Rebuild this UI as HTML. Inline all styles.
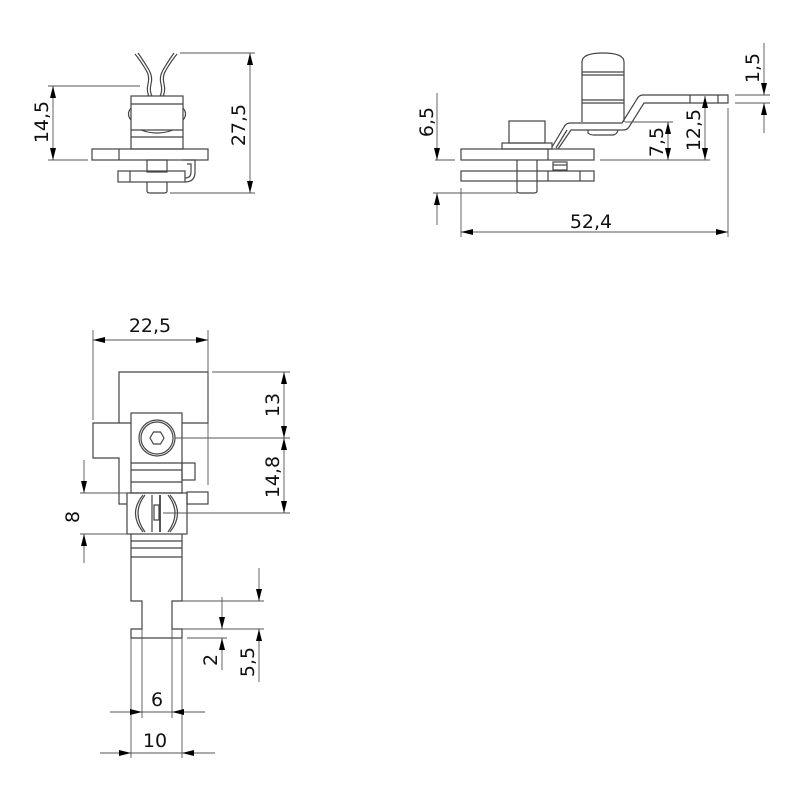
<!DOCTYPE html>
<html><head><style>
html,body{margin:0;padding:0;background:#fff;}
svg{display:block;}
text{font-family:"DejaVu Sans","Liberation Sans",sans-serif;font-size:19px;fill:#111;}
.p{fill:none;stroke:#444;stroke-width:1.2;}
.d{fill:none;stroke:#555;stroke-width:0.9;}
</style></head><body>
<svg width="800" height="800" viewBox="0 0 800 800">
<defs>
<marker id="a" viewBox="0 0 12 6" refX="12" refY="3" markerWidth="12" markerHeight="6" markerUnits="userSpaceOnUse" orient="auto"><path d="M0,0 L12,3 L0,6z" fill="#000"/></marker>
</defs>

<!-- VIEW 1 -->
<g class="p">
<path d="M135,54 Q140,60 146,70 Q150,76 148,84 Q146,92 150,98"/>
<path d="M138,53 Q143,60 149,70 Q153,77 151,84 Q149,92 153,98"/>
<path d="M177,54 Q172,60 166,70 Q162,76 164,84 Q166,92 162,98"/>
<path d="M174,53 Q169,60 163,70 Q159,77 161,84 Q163,92 159,98"/>
<rect x="131" y="96" width="52" height="53" fill="#fff"/>
<line x1="131" y1="104" x2="183" y2="104"/>
<line x1="131" y1="130" x2="183" y2="130"/>
<line x1="131" y1="137" x2="183" y2="137"/>
<path d="M141,130 Q157,136 173,130"/>
<path d="M131,108 Q126,114 131,120"/><path d="M183,108 Q188,114 183,120"/>
<rect x="92" y="149" width="116" height="11"/>
<line x1="119" y1="149" x2="119" y2="160"/>
<rect x="147" y="160" width="20" height="12"/>
<rect x="118" y="171" width="67" height="11"/>
<line x1="130" y1="171" x2="130" y2="182"/>
<path d="M147,182 L147,191 Q147,193 150,193 L164,193 Q167,193 167,191 L167,182"/>
<path d="M183,160 L195,160 L195,172 Q195,182 185,182"/>
<path d="M187,164 L191,164 L191,172 Q191,178 185,178"/>
</g>
<g class="d">
<line x1="48" y1="86" x2="140" y2="86"/>
<line x1="48" y1="160" x2="88" y2="160"/>
<line x1="53" y1="120" x2="53" y2="86" marker-end="url(#a)"/>
<line x1="53" y1="120" x2="53" y2="160" marker-end="url(#a)"/>
<line x1="180" y1="53" x2="255" y2="53"/>
<line x1="170" y1="193" x2="255" y2="193"/>
<line x1="250" y1="120" x2="250" y2="53" marker-end="url(#a)"/>
<line x1="250" y1="120" x2="250" y2="193" marker-end="url(#a)"/>
</g>
<text transform="translate(48,122) rotate(-90)" text-anchor="middle">14,5</text>
<text transform="translate(245,125) rotate(-90)" text-anchor="middle">27,5</text>

<!-- VIEW 2 -->
<g class="p">
<path d="M582,122 L582,62 Q582,53 603,53 Q624,53 624,62 L624,122"/>
<line x1="582" y1="72" x2="624" y2="72"/><line x1="582" y1="75" x2="624" y2="75"/>
<line x1="582" y1="100" x2="624" y2="100"/><line x1="582" y1="103" x2="624" y2="103"/>
<path d="M588,130 L588,133 Q590,135 594,135 L612,135 Q617,135 618,130"/>
<rect x="461" y="149" width="133" height="11"/>
<line x1="548" y1="149" x2="548" y2="160"/>
<rect x="461" y="171" width="133" height="10"/>
<line x1="548" y1="171" x2="548" y2="181"/><line x1="580" y1="171" x2="580" y2="181"/>
<rect x="502" y="143" width="50" height="6"/>
<rect x="509" y="121" width="36" height="22"/>
<path d="M517,160 L517,191 Q517,193 520,193 L534,193 Q537,193 537,191 L537,160"/>
<rect x="553" y="162" width="14" height="8"/>
<line x1="553" y1="165" x2="567" y2="165"/>
<path d="M552,147 L564,127 Q566,123 570,123 L622,123 L637,99 Q639,95 643,95 L728,95 L728,103 L644,103 L629,127 Q627,130 623,130 L571,130 L558,149"/>
<line x1="556" y1="148" x2="567" y2="130"/>
<line x1="690" y1="95" x2="690" y2="103"/><line x1="718" y1="95" x2="718" y2="103"/>
</g>
<g class="d">
<line x1="437" y1="93" x2="437" y2="160" marker-end="url(#a)"/>
<line x1="437" y1="225" x2="437" y2="193" marker-end="url(#a)"/>
<line x1="435" y1="160" x2="455" y2="160"/>
<line x1="433" y1="193" x2="517" y2="193"/>
<line x1="461" y1="188" x2="461" y2="237"/>
<line x1="728" y1="108" x2="728" y2="237"/>
<line x1="595" y1="232" x2="461" y2="232" marker-end="url(#a)"/>
<line x1="595" y1="232" x2="728" y2="232" marker-end="url(#a)"/>
<line x1="600" y1="160" x2="710" y2="160"/>
<line x1="625" y1="122" x2="673" y2="122"/>
<line x1="668" y1="140" x2="668" y2="122" marker-end="url(#a)"/>
<line x1="668" y1="140" x2="668" y2="160" marker-end="url(#a)"/>
<line x1="705" y1="130" x2="705" y2="96" marker-end="url(#a)"/>
<line x1="705" y1="130" x2="705" y2="160" marker-end="url(#a)"/>
<line x1="735" y1="95" x2="770" y2="95"/>
<line x1="735" y1="103" x2="770" y2="103"/>
<line x1="764" y1="43" x2="764" y2="95" marker-end="url(#a)"/>
<line x1="764" y1="133" x2="764" y2="103" marker-end="url(#a)"/>
</g>
<text transform="translate(433,122) rotate(-90)" text-anchor="middle">6,5</text>
<text x="591" y="228" text-anchor="middle">52,4</text>
<text transform="translate(663,142) rotate(-90)" text-anchor="middle">7,5</text>
<text transform="translate(700,130) rotate(-90)" text-anchor="middle">12,5</text>
<text transform="translate(759,68) rotate(-90)" text-anchor="middle">1,5</text>

<!-- VIEW 3 -->
<g class="p">
<path d="M131,423 L119,423 L93,423 L93,458 L119,458 L119,504 L127,504"/>
<path d="M119,423 L119,372 L208,372 L208,423 L182,423"/>
<rect x="131" y="413" width="51" height="80"/>
<circle cx="157" cy="438" r="18"/>
<circle cx="157" cy="438" r="16"/>
<polygon points="164,438 160.5,444 153.5,444 150,438 153.5,432 160.5,432"/>
<line x1="131" y1="463" x2="182" y2="463"/>
<line x1="131" y1="470" x2="182" y2="470"/>
<line x1="131" y1="482" x2="182" y2="482"/>
<rect x="182" y="463" width="13" height="17"/>
<rect x="187" y="492" width="21" height="12"/>
<rect x="127" y="493" width="60" height="41"/>
<path d="M143,495 Q128,513 143,532"/><path d="M145,495 Q131,513 145,532"/>
<path d="M170,495 Q185,513 170,532"/><path d="M168,495 Q182,513 168,532"/>
<line x1="152" y1="495" x2="152" y2="532"/>
<line x1="160" y1="495" x2="160" y2="532" style="stroke-width:1.8"/>
<rect x="154" y="505" width="5" height="15"/>
<path d="M131,534 L131,601 L142,601 L142,629 L131,629 L131,638 L182,638 L182,629 L172,629 L172,601 L182,601 L182,534"/>
<line x1="131" y1="541" x2="182" y2="541"/>
<line x1="131" y1="548" x2="182" y2="548"/>
<line x1="131" y1="557" x2="182" y2="557"/>
</g>
<g class="d">
<line x1="93" y1="330" x2="93" y2="420"/>
<line x1="208" y1="330" x2="208" y2="485"/>
<line x1="150" y1="340" x2="93" y2="340" marker-end="url(#a)"/>
<line x1="150" y1="340" x2="208" y2="340" marker-end="url(#a)"/>
<line x1="212" y1="372" x2="290" y2="372"/>
<line x1="175" y1="438" x2="290" y2="438"/>
<line x1="163" y1="513" x2="290" y2="513"/>
<line x1="284" y1="405" x2="284" y2="372" marker-end="url(#a)"/>
<line x1="284" y1="405" x2="284" y2="438" marker-end="url(#a)"/>
<line x1="284" y1="475" x2="284" y2="438" marker-end="url(#a)"/>
<line x1="284" y1="475" x2="284" y2="513" marker-end="url(#a)"/>
<line x1="80" y1="493" x2="127" y2="493"/>
<line x1="80" y1="534" x2="127" y2="534"/>
<line x1="84" y1="460" x2="84" y2="493" marker-end="url(#a)"/>
<line x1="84" y1="563" x2="84" y2="534" marker-end="url(#a)"/>
<line x1="131" y1="638" x2="131" y2="758"/>
<line x1="182" y1="638" x2="182" y2="758"/>
<line x1="142" y1="629" x2="142" y2="718"/>
<line x1="172" y1="629" x2="172" y2="718"/>
<line x1="110" y1="712" x2="142" y2="712" marker-end="url(#a)"/>
<line x1="205" y1="712" x2="172" y2="712" marker-end="url(#a)"/>
<line x1="142" y1="712" x2="172" y2="712"/>
<line x1="100" y1="753" x2="131" y2="753" marker-end="url(#a)"/>
<line x1="215" y1="753" x2="182" y2="753" marker-end="url(#a)"/>
<line x1="131" y1="753" x2="182" y2="753"/>
<line x1="182" y1="601" x2="264" y2="601"/>
<line x1="182" y1="629" x2="264" y2="629"/>
<line x1="187" y1="638" x2="227" y2="638"/>
<line x1="222" y1="597" x2="222" y2="629" marker-end="url(#a)"/>
<line x1="222" y1="670" x2="222" y2="638" marker-end="url(#a)"/>
<line x1="259" y1="568" x2="259" y2="601" marker-end="url(#a)"/>
<line x1="259" y1="682" x2="259" y2="629" marker-end="url(#a)"/>
</g>
<text x="150" y="332" text-anchor="middle">22,5</text>
<text transform="translate(279,405) rotate(-90)" text-anchor="middle">13</text>
<text transform="translate(279,477) rotate(-90)" text-anchor="middle">14,8</text>
<text transform="translate(79,517) rotate(-90)" text-anchor="middle">8</text>
<text x="157" y="706" text-anchor="middle">6</text>
<text x="155" y="747" text-anchor="middle">10</text>
<text transform="translate(217,660) rotate(-90)" text-anchor="middle">2</text>
<text transform="translate(254,662) rotate(-90)" text-anchor="middle">5,5</text>
</svg>
</body></html>
